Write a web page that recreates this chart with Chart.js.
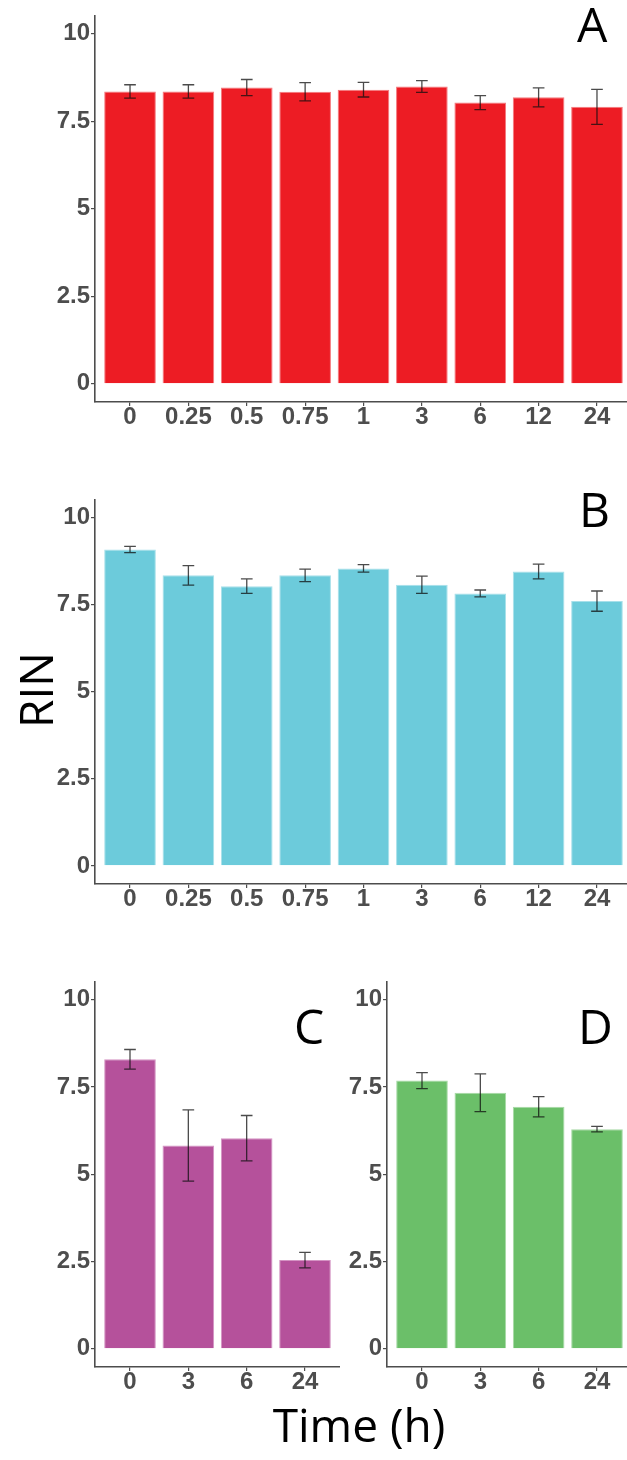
<!DOCTYPE html>
<html>
<head>
<meta charset="utf-8">
<script src="https://cdn.jsdelivr.net/npm/chart.js@4.4.1/dist/chart.umd.min.js"></script>
<style>
  html, body { margin: 0; padding: 0; background: #fff; }
  body { width: 627px; height: 1460px; position: relative; overflow: hidden; }
  canvas { position: absolute; }
  .letter { position: absolute; font-family: "Open Sans", sans-serif; font-size: 48px; line-height: 48px; color: #000; }
  .title { position: absolute; font-family: "Open Sans", sans-serif; font-size: 46px; line-height: 48px; color: #000; text-align: center; white-space: nowrap; }
</style>
</head>
<body>
<canvas id="chartA" width="632" height="440" style="left:0;top:0"></canvas>
<canvas id="chartB" width="632" height="440" style="left:0;top:484px"></canvas>
<canvas id="chartC" width="340" height="440" style="left:0;top:966px"></canvas>
<canvas id="chartD" width="340" height="440" style="left:292px;top:966px"></canvas>

<div class="letter" style="left:577px;top:0">A</div>
<div class="letter" style="left:579px;top:485px">B</div>
<div class="letter" style="left:294px;top:1002px">C</div>
<div class="letter" style="left:578px;top:1002px">D</div>
<div class="title" style="left:-65px;top:666px;width:200px;transform:rotate(-90deg)">RIN</div>
<div class="title" style="left:259px;top:1400px;width:200px">Time (h)</div>

<script>
// time points (h)
const timesAB = ["0", "0.25", "0.5", "0.75", "1", "3", "6", "12", "24"];
const timesCD = ["0", "3", "6", "24"];

// mean RIN and error per panel
const rinA = [8.35, 8.35, 8.46, 8.34, 8.40, 8.49, 8.03, 8.18, 7.91];
const errA = [0.19, 0.19, 0.23, 0.26, 0.21, 0.17, 0.20, 0.27, 0.50];
const rinB = [9.08, 8.34, 8.03, 8.34, 8.54, 8.07, 7.82, 8.45, 7.60];
const errB = [0.09, 0.28, 0.21, 0.18, 0.11, 0.25, 0.10, 0.21, 0.29];
const rinC = [8.29, 5.82, 6.03, 2.54];
const errC = [0.28, 1.02, 0.65, 0.22];
const rinD = [7.68, 7.33, 6.93, 6.29];
const errD = [0.23, 0.54, 0.29, 0.08];

const yTicks = [0, 2.5, 5, 7.5, 10];

const tickFont = { family: "'Liberation Sans', Arial, sans-serif", size: 24, weight: "bold" };
const axisGrey = "#4d4d4d";

// draws mean +/- err whiskers on top of the bars
const errorBars = {
  id: "errorBars",
  afterDatasetsDraw(chart, args, opts) {
    const { ctx } = chart;
    const x = chart.scales.x;
    const y = chart.scales.y;
    const pts = chart.data.datasets[0].data;
    ctx.save();
    ctx.strokeStyle = "rgba(15,15,15,0.75)";
    ctx.lineWidth = 1.3;
    pts.forEach((p, i) => {
      const e = opts.errors[i];
      const xc = x.getPixelForValue(p.x);
      const xl = x.getPixelForValue(p.x - 0.1);
      const xr = x.getPixelForValue(p.x + 0.1);
      const yt = y.getPixelForValue(p.y + e);
      const yb = y.getPixelForValue(p.y - e);
      ctx.beginPath();
      ctx.moveTo(xc, yt); ctx.lineTo(xc, yb);
      ctx.moveTo(xl, yt); ctx.lineTo(xr, yt);
      ctx.moveTo(xl, yb); ctx.lineTo(xr, yb);
      ctx.stroke();
    });
    ctx.restore();
  },
};

function makePanel(id, labels, values, errors, color, edge, axisH) {
  const ctx = document.getElementById(id).getContext("2d");
  return new Chart(ctx, {
    type: "bar",
    data: {
      datasets: [
        {
          data: values.map((v, i) => ({ x: i, y: v })),
          backgroundColor: color,
          borderColor: edge,
          borderWidth: 1,
          categoryPercentage: 1,
          barPercentage: 0.885,
        },
      ],
    },
    options: {
      responsive: false,
      animation: false,
      layout: { padding: { top: 8, right: 0, left: 0, bottom: 0 } },
      plugins: {
        legend: { display: false },
        tooltip: { enabled: false },
        errorBars: { errors: errors },
      },
      scales: {
        x: {
          type: "linear",
          min: -0.6,
          max: labels.length - 0.4,
          offset: false,
          afterBuildTicks: (scale) => {
            scale.ticks = labels.map((l, i) => ({ value: i }));
          },
          afterFit: (scale) => {
            scale.height = axisH;
          },
          ticks: {
            color: axisGrey,
            font: tickFont,
            padding: -3,
            maxRotation: 0,
            autoSkip: false,
            callback: (v) => labels[v],
          },
          grid: {
            display: true,
            offset: false,
            drawOnChartArea: false,
            drawTicks: true,
            tickLength: 4,
            color: axisGrey,
            lineWidth: 1.2,
          },
          border: { display: true, color: axisGrey, width: 1.6 },
        },
        y: {
          min: -0.52,
          max: 10.52,
          afterBuildTicks: (scale) => {
            scale.ticks = yTicks.map((v) => ({ value: v }));
          },
          afterFit: (scale) => {
            scale.width = 95;
          },
          ticks: {
            color: axisGrey,
            font: tickFont,
            padding: 1,
            callback: (v) => String(v),
          },
          grid: {
            display: true,
            drawOnChartArea: false,
            drawTicks: true,
            tickLength: 4,
            color: axisGrey,
            lineWidth: 1.2,
          },
          border: { display: true, color: axisGrey, width: 1.6 },
        },
      },
    },
    plugins: [errorBars],
  });
}

makePanel("chartA", timesAB, rinA, errA, "#ED1C24", "#F47A7E", 38);
makePanel("chartB", timesAB, rinB, errB, "#6CCBDB", "#A8E0EA", 40);
makePanel("chartC", timesCD, rinC, errC, "#B5519B", "#D493C3", 39);
makePanel("chartD", timesCD, rinD, errD, "#6BBF69", "#A6D9A5", 39);
</script>
</body>
</html>
